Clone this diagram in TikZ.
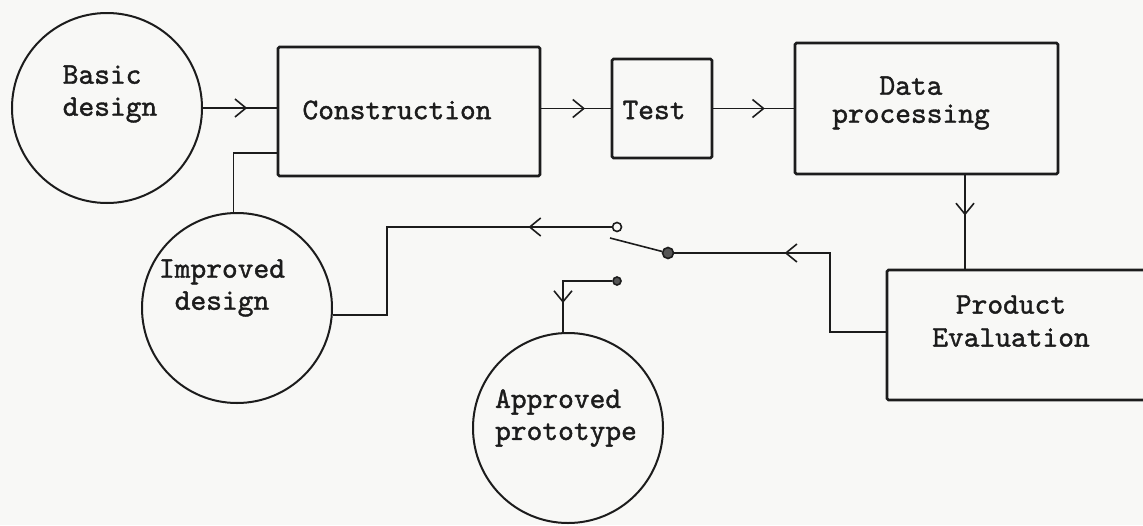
\documentclass[tikz,border=0pt]{standalone}
\usepackage{fontspec}
\usetikzlibrary{arrows.meta,decorations.markings,calc}

% typewriter face, slightly heavier than the stock weight
\newfontfamily\typer{lmmono10-regular.otf}[FakeBold=1.3]

\definecolor{paper}{RGB}{248,248,246}
\definecolor{ink}{RGB}{28,28,28}

\tikzset{
  lbl/.style={font=\fontsize{30}{32}\selectfont\typer, text=ink, inner sep=0pt},
  stage/.style={draw=ink, line width=2.6pt, rounded corners=1.5pt, inner sep=0pt},
  disc/.style={draw=ink, line width=2pt, circle, minimum size=190pt, inner sep=0pt},
  conn/.style={draw=ink, line width=1.6pt},
  contact/.style={circle, draw=ink, line width=1.6pt, fill=paper, minimum size=9pt, inner sep=0pt},
  barb/.style={postaction={decorate},
    decoration={markings, mark=at position #1 with {\arrow{Straight Barb[length=11pt,width=18pt]}}}},
}

\begin{document}
\begin{tikzpicture}[x=1pt,y=-1pt]
\fill[paper] (0,0) rectangle (1143,525);
\useasboundingbox (0,0) rectangle (1143,525);

% design stages (circles)
\node[disc] (basic) at (107,108) {};
\node[lbl, align=left] (basicT) at (110,94) {Basic\\design};
\node[disc] (improved) at (237,308) {};
\node[lbl, align=center] (improvedT) at (222,288) {Improved\\design};
\node[disc] (approved) at (568,428) {};
\node[lbl, align=left] (approvedT) at (566,418) {Approved\\prototype};

% processing stages (boxes)
\node[stage, minimum width=262pt, minimum height=129pt] (cons) at (409,111.5) {};
\node[lbl] (consT) at (397,110) {Construction};
\node[stage, minimum width=100pt, minimum height=99pt] (test) at (662,108.5) {};
\node[lbl] (testT) at (654,110) {Test};
\node[stage, minimum width=263pt, minimum height=131pt] (data) at (926.5,108.5) {};
\node[lbl, align=center, font=\fontsize{30}{28}\selectfont\typer] (dataT) at (911,103) {Data\\processing};
\node[stage, minimum width=280pt, minimum height=130pt] (prod) at (1027,335) {};
\node[lbl, align=center, font=\fontsize{30}{33}\selectfont\typer] (prodT) at (1011,321) {Product\\Evaluation};

% selector switch
\node[contact, fill=ink!75, minimum size=11pt] (pivot) at (668,253) {};
\node[contact] (c1) at (617,227) {};
\node[contact, fill=ink!75, minimum size=8pt] (c2) at (617,281) {};
\coordinate (bladeEnd) at (610,238);
\draw[conn] (pivot) -- (bladeEnd);

% main flow
\draw[conn, barb=0.6] (basic.east) -- (basic.east -| cons.west);
\draw[conn, barb=0.63] (test.west -| cons.east) -- (test.west);
\draw[conn, barb=0.64] (test.east) -- (test.east -| data.west);
\coordinate (dp) at ($(data.south)+(38.5,0)$);
\draw[conn, barb=0.43] (dp) -- (dp |- prod.north);

% evaluation result back to the switch
\draw[conn, barb=0.62] ([yshift=3pt]prod.west) -- ++(-56,0) |- (pivot);

% redesign loop
\coordinate (k1) at (387,227);
\draw[conn, barb=0.227] (c1) -- (k1) |- (improved.-4);
\draw[conn] (improved.92) |- ([yshift=-41.5pt]cons.west);

% release of the approved prototype
\draw[conn, barb=0.71] (c2) -| (approved.93);
\end{tikzpicture}
\end{document}
